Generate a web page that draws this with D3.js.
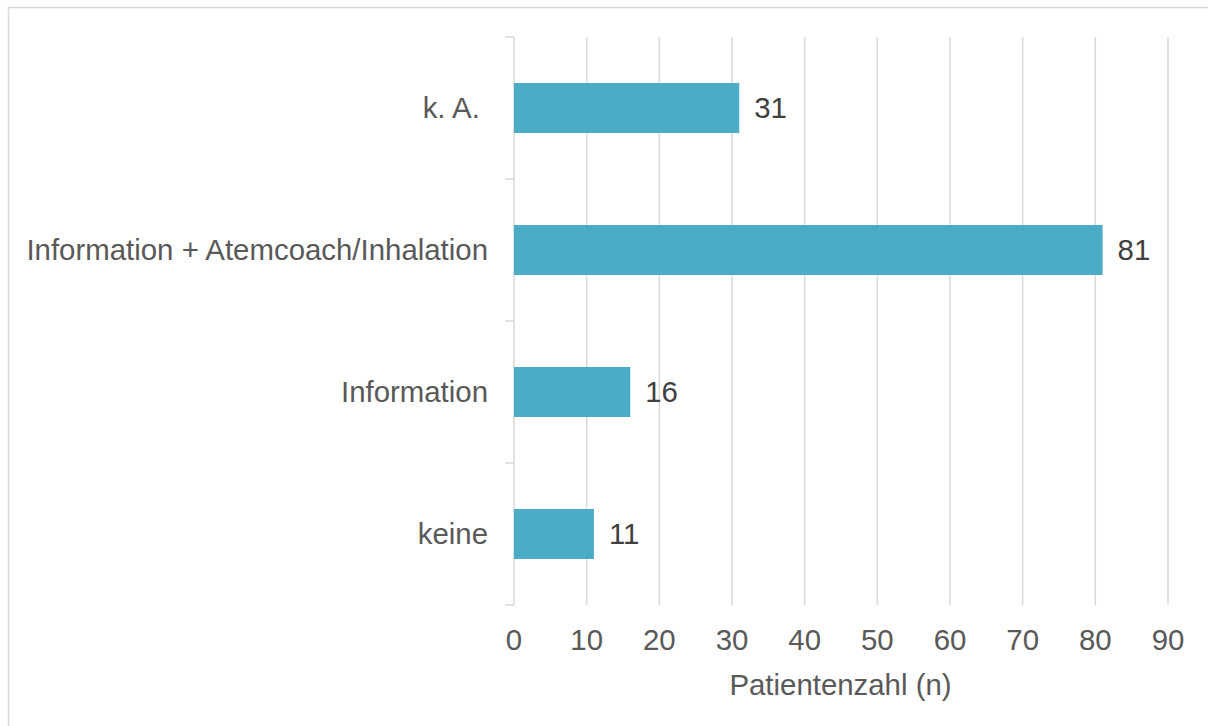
<!DOCTYPE html>
<html>
<head>
<meta charset="utf-8">
<script src="https://cdn.jsdelivr.net/npm/d3@7"></script>
<style>
  html, body { margin: 0; padding: 0; background: #fff; }
  svg { display: block; }
  text { white-space: pre; }
</style>
</head>
<body>
<svg id="chart" width="1208" height="726"></svg>
<script>
// Categories from top to bottom and patient counts
const categories = ["k. A. ", "Information + Atemcoach/Inhalation", "Information", "keine"];
const counts = [31, 81, 16, 11];
const xTicks = [0, 10, 20, 30, 40, 50, 60, 70, 80, 90];
const xTitle = "Patientenzahl (n)";

const W = 1208, H = 726;
const plot = { left: 514, right: 1168, top: 37, bottom: 605 };
const font = "Liberation Sans, Arial, sans-serif";
const fontSize = 29.4;

const svg = d3.select("#chart");

// Outer frame
svg.append("rect")
  .attr("x", 8.5).attr("y", 7.5)
  .attr("width", W + 10).attr("height", H + 10)
  .attr("fill", "#fff")
  .attr("stroke", "#d9d9d9")
  .attr("stroke-width", 1.5);

const x = d3.scaleLinear().domain([0, 90]).range([plot.left, plot.right]);
const y = d3.scaleBand().domain(categories)
  .range([plot.top, plot.bottom])
  .paddingInner(0.648).paddingOuter(0.324);

// Vertical gridlines
svg.append("g").selectAll("line")
  .data(xTicks.filter(d => d > 0))
  .join("line")
  .attr("x1", d => x(d)).attr("x2", d => x(d))
  .attr("y1", plot.top).attr("y2", plot.bottom)
  .attr("stroke", "#d9d9d9").attr("stroke-width", 1.5);

// Category axis with tick marks at band boundaries
const yAxis = svg.append("g");
yAxis.append("line")
  .attr("x1", plot.left).attr("x2", plot.left)
  .attr("y1", plot.top).attr("y2", plot.bottom)
  .attr("stroke", "#d9d9d9").attr("stroke-width", 1.5);
const step = (plot.bottom - plot.top) / categories.length;
yAxis.selectAll("line.tick")
  .data(d3.range(categories.length + 1))
  .join("line")
  .attr("class", "tick")
  .attr("x1", plot.left - 9).attr("x2", plot.left)
  .attr("y1", i => plot.top + i * step).attr("y2", i => plot.top + i * step)
  .attr("stroke", "#d9d9d9").attr("stroke-width", 1.5);

// Bars
svg.append("g").selectAll("rect")
  .data(categories)
  .join("rect")
  .attr("x", x(0))
  .attr("y", d => y(d))
  .attr("width", (d, i) => x(counts[i]) - x(0))
  .attr("height", y.bandwidth())
  .attr("fill", "#4bacc6");

// Category labels
svg.append("g").selectAll("text")
  .data(categories)
  .join("text")
  .attr("x", 488)
  .attr("y", d => y(d) + y.bandwidth() / 2)
  .attr("dy", "0.35em")
  .attr("text-anchor", "end")
  .attr("font-family", font).attr("font-size", fontSize)
  .attr("fill", "#595959")
  .text(d => d);

// Value labels
svg.append("g").selectAll("text")
  .data(categories)
  .join("text")
  .attr("x", (d, i) => x(counts[i]) + 15)
  .attr("y", d => y(d) + y.bandwidth() / 2)
  .attr("dy", "0.35em")
  .attr("font-family", font).attr("font-size", fontSize)
  .attr("fill", "#404040")
  .text((d, i) => counts[i]);

// X tick labels
svg.append("g").selectAll("text")
  .data(xTicks)
  .join("text")
  .attr("x", d => x(d))
  .attr("y", 650)
  .attr("text-anchor", "middle")
  .attr("font-family", font).attr("font-size", fontSize)
  .attr("fill", "#595959")
  .text(d => d);

// X axis title
svg.append("text")
  .attr("x", x(45) - 0.5)
  .attr("y", 695)
  .attr("text-anchor", "middle")
  .attr("font-family", font).attr("font-size", fontSize)
  .attr("fill", "#595959")
  .text(xTitle);
</script>
</body>
</html>
